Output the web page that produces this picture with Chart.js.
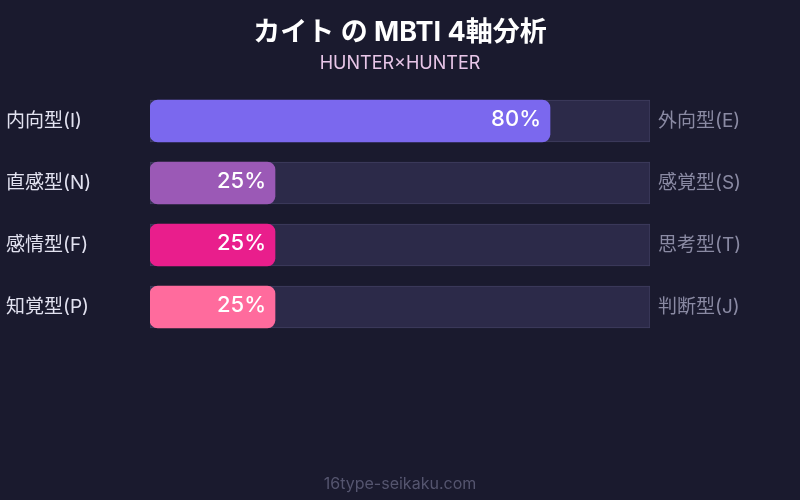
<!DOCTYPE html>
<html>
<head>
<meta charset="utf-8">
<script src="https://cdn.jsdelivr.net/npm/chart.js@4"></script>
<style>
  html, body { margin: 0; padding: 0; background: #1a1a2e; }
  #wrap { width: 800px; height: 500px; }
</style>
</head>
<body>
<div id="wrap"><canvas id="mbti-chart"></canvas></div>
<script>
const leftLabels = ['内向型(I)', '直感型(N)', '感情型(F)', '知覚型(P)'];
const rightLabels = ['外向型(E)', '感覚型(S)', '思考型(T)', '判断型(J)'];
const values = [80, 25, 25, 25];
const trackValues = [100, 100, 100, 100];
const barColors = ['#7b68ee', '#9b59b6', '#e91e8c', '#ff6b9d'];

const FONT = "Inter, 'Noto Sans CJK JP', sans-serif";

const textPlugin = {
    id: 'mbtiText',
    afterDatasetsDraw(chart) {
        const ctx = chart.ctx;
        const meta = chart.getDatasetMeta(0);
        ctx.save();
        ctx.fillStyle = '#ffffff';
        ctx.font = '500 22px ' + FONT;
        ctx.textAlign = 'right';
        ctx.textBaseline = 'middle';
        meta.data.forEach((bar, i) => {
            ctx.fillText(values[i] + '%', bar.x - 9, bar.y - 2);
        });
        ctx.restore();
    },
    afterDraw(chart) {
        const ctx = chart.ctx;
        ctx.save();
        ctx.textAlign = 'center';
        ctx.textBaseline = 'middle';
        ctx.fillStyle = '#ffffff';
        ctx.font = 'bold 27px ' + FONT;
        ctx.fillText('カイト の MBTI 4軸分析', 400, 33);
        ctx.fillStyle = '#e8c6e8';
        ctx.font = '18px ' + FONT;
        ctx.fillText('HUNTER×HUNTER', 400, 64);
        ctx.fillStyle = '#55556f';
        ctx.font = '16px ' + FONT;
        ctx.fillText('16type-seikaku.com', 400, 484);
        ctx.restore();
    }
};

new Chart(document.getElementById('mbti-chart'), {
    type: 'bar',
    data: {
        labels: leftLabels,
        datasets: [{
            data: values,
            backgroundColor: barColors,
            borderRadius: 8,
            borderSkipped: false,
            barThickness: 42,
            grouped: false,
            yAxisID: 'y'
        }, {
            data: trackValues,
            backgroundColor: '#2c2a49',
            borderColor: '#3f3e5f',
            borderWidth: 1,
            borderSkipped: false,
            barThickness: 42,
            grouped: false,
            yAxisID: 'y'
        }]
    },
    options: {
        indexAxis: 'y',
        responsive: true,
        maintainAspectRatio: false,
        animation: false,
        layout: {
            padding: { left: 6, right: 0, top: 90, bottom: 162 }
        },
        plugins: {
            legend: { display: false },
            tooltip: { enabled: false }
        },
        scales: {
            x: {
                display: false,
                min: 0,
                max: 100
            },
            y: {
                position: 'left',
                grid: { display: false, drawTicks: false },
                border: { display: false },
                ticks: {
                    crossAlign: 'far',
                    color: '#e2e2f0',
                    font: { size: 19, family: FONT },
                    padding: 0
                },
                afterFit(scale) { scale.width = 144; }
            },
            y2: {
                position: 'right',
                type: 'category',
                labels: rightLabels,
                offset: true,
                grid: { display: false, drawTicks: false },
                border: { display: false },
                ticks: {
                    color: '#8a8aa3',
                    font: { size: 19, family: FONT },
                    padding: 8
                },
                afterFit(scale) { scale.width = 150; }
            }
        }
    },
    plugins: [textPlugin]
});
</script>
</body>
</html>
